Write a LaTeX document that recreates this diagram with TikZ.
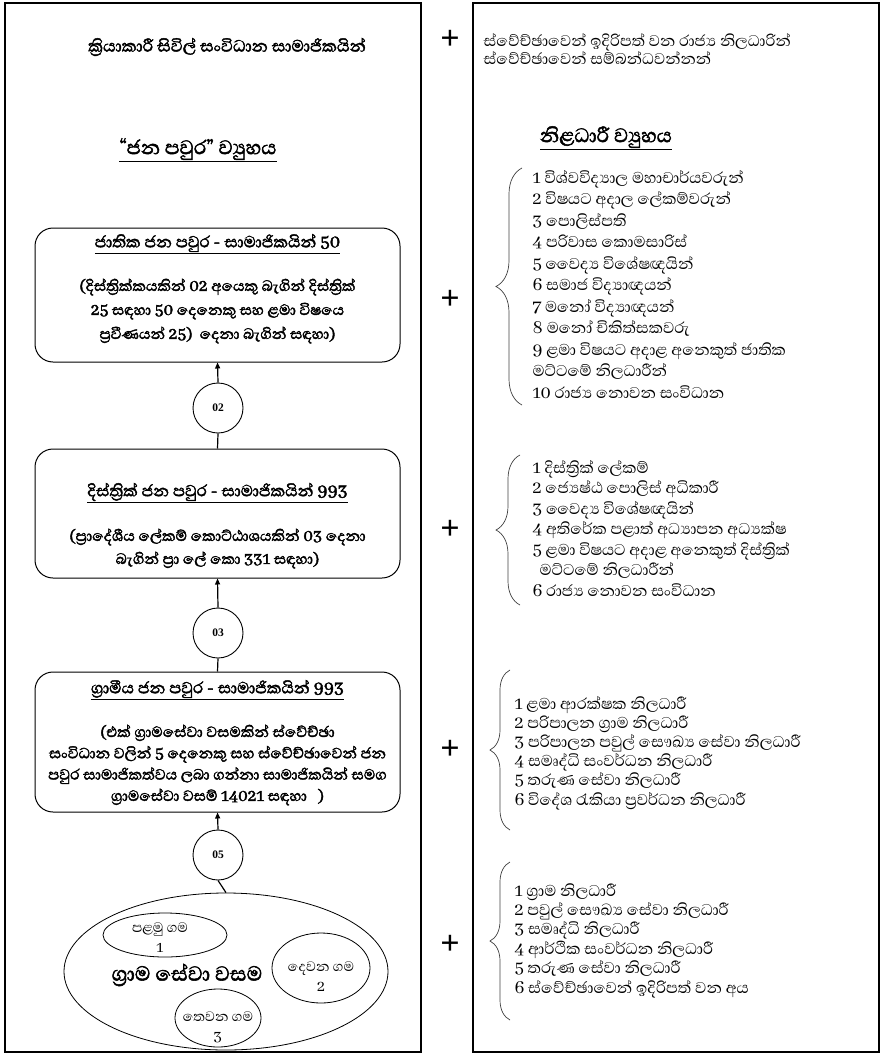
\documentclass[tikz,border=0pt]{standalone}
\usepackage{fontspec}
\setmainfont{Liberation Serif}
\newfontfamily\sinhala[Script=Sinhala, Numbers=Lining, AutoFakeBold=2]{Abhaya Libre}
\usepackage{tikz}
\usetikzlibrary{shapes.geometric}
\usetikzlibrary{decorations.pathreplacing}
\usetikzlibrary{arrows.meta}

\begin{document}
\begin{tikzpicture}[x=1pt, y=-1pt,
% define styles here
panel/.style={draw, line width=1.8pt},
levelbox/.style={rectangle, draw, line width=1pt, rounded corners=18pt, minimum width=365pt},
levelhead/.style={font=\sinhala\bfseries\fontsize{20.5}{22}\selectfont},
leveltext/.style={align=center, font=\sinhala\bfseries\fontsize{19}{#1}\selectfont},
countcircle/.style={circle, draw, line width=0.9pt, minimum size=50pt, inner sep=0pt, font=\bfseries\fontsize{11.5}{11.5}\selectfont},
village/.style={ellipse, draw, line width=0.8pt, inner sep=0pt},
villagetext/.style={align=center, font=\sinhala\fontsize{17.5}{20}\selectfont},
plussign/.style={font=\bfseries\fontsize{34}{34}\selectfont},
officers/.style={anchor=west, align=left, font=\sinhala\fontsize{20}{#1}\selectfont},
listbrace/.style={decorate, decoration={brace, amplitude=#1}, line width=0.7pt, draw=black!75},
uparrow/.style={-{Triangle[length=6pt, width=5pt]}, line width=1.2pt}
]
\useasboundingbox (0,0) rectangle (882,1057);

% the two panels
\draw[panel] (5,3) rectangle (421,1052);
\draw[panel] (473,3) rectangle (879,1052);

% left panel: jana pawura
\node[font=\sinhala\bfseries\fontsize{21}{22}\selectfont] (activists) at (227,47) {ක්‍රියාකාරී සිවිල් සංවිධාන සාමාජිකයින්};
\node[font=\sinhala\bfseries\fontsize{25}{28}\selectfont] (janatitle) at (198,150) {\underline{“ජන පවුර” ව්‍යුහය}};

\node[levelbox, minimum height=134pt] (national) at (217.5,295) {};
\node[levelhead] (nationalhead) at (217.5,244) {\underline{ජාතික ජන පවුර - සාමාජිකයින් 50}};
\node[leveltext=24] (nationaltext) at (217.5,311) {(දිස්ත්‍රික්කයකින් 02 අයෙකු බැගින් දිස්ත්‍රික්\\25 සඳහා 50 දෙනෙකු සහ ළමා විෂයෙ\\ප්‍රවීණයන් 25)\ \ දෙනා බැගින් සඳහා)};

\node[countcircle] (c2) at (218,408) {02};

\node[levelbox, minimum height=129pt] (district) at (217.5,513.5) {};
\node[levelhead] (districthead) at (217.5,493) {\underline{දිස්ත්‍රික් ජන පවුර - සාමාජිකයින් 993}};
\node[leveltext=23] (districttext) at (217.5,548.5) {(ප්‍රාදේශීය ලේකම් කොට්ඨාශයකින් 03 දෙනා\\බැගින් ප්‍රා ලේ කො 331 සඳහා)};

\node[countcircle] (c3) at (218,633) {03};

\node[levelbox, minimum height=140pt] (rural) at (217.5,742) {};
\node[levelhead] (ruralhead) at (217.5,690) {\underline{ග්‍රාමීය ජන පවුර - සාමාජිකයින් 993}};
\node[leveltext=21.3] (ruraltext) at (217.5,765) {(එක් ග්‍රාමසේවා වසමකින් ස්වේච්ඡා\\සංවිධාන වලින් 5 දෙනෙකු සහ ස්වේච්ඡාවෙන් ජන\\පවුර සාමාජිකත්වය ලබා ගන්නා සාමාජිකයින් සමග\\ග්‍රාමසේවා වසම් 14021 සඳහා\ \ \ )};

\node[countcircle] (c5) at (218,855) {05};

\node[village, minimum width=324pt, minimum height=157pt] (gnarea) at (226,971.5) {};
\node[font=\sinhala\bfseries\fontsize{26}{28}\selectfont] (gnlabel) at (187,975) {ග්‍රාම සේවා වසම};
\node[village, minimum width=124pt, minimum height=44pt] (village1) at (165,935) {};
\node[villagetext] (village1text) at (160,938) {පළමු ගම\\1};
\node[village, minimum width=98pt, minimum height=70pt] (village2) at (321,968) {};
\node[villagetext] (village2text) at (321,977) {දෙවන ගම\\2};
\node[village, minimum width=86pt, minimum height=58pt] (village3) at (218,1018) {};
\node[villagetext] (village3text) at (218,1027) {තෙවන ගම\\3};

% connectors between the levels
\draw[uparrow] (c2.north) -- (national.south);
\draw[line width=1.2pt] (district.north) -- (c2.south);
\draw[uparrow] (c3.north) -- (district.south);
\draw[line width=1.2pt] (rural.north) -- (c3.south);
\draw[uparrow] (c5.north) -- (rural.south);
\draw[line width=1.2pt] (gnarea.north) -- (c5.south);

% plus signs
\node[plussign] (plus0) at (450,40) {+};
\node[plussign] (plus1) at (450,300) {+};
\node[plussign] (plus2) at (450,530) {+};
\node[plussign] (plus3) at (450,750) {+};
\node[plussign] (plus4) at (450,945) {+};

% right panel: officers
\node[anchor=west, align=left, font=\sinhala\fontsize{19.8}{18.5}\selectfont] (volunteers) at (480,49) {ස්වේච්ඡාවෙන් ඉදිරිපත් වන රාජ්‍ය නිලධාරින්\\ස්වේච්ඡාවෙන් සම්බන්ධවන්නන්};
\node[font=\sinhala\bfseries\fontsize{25}{28}\selectfont] (offtitle) at (606,138) {\underline{නිළධාරී ව්‍යුහය}};

\node[officers=21.5] (natlist) at (529,284.5) {1 විශ්වවිද්‍යාල මහාචාර්යවරුන්\\2 විෂයට අදාල ලේකම්වරුන්\\3 පොලිස්පති\\4 පරිවාස කොමසාරිස්\\5 වෛද්‍ය විශේෂඥයින්\\6 සමාජ විද්‍යාඥයන්\\7 මනෝ විද්‍යාඥයන්\\8 මනෝ චිකිත්සකවරු\\9 ළමා විෂයට අදාළ අනෙකුත් ජාතික\\මට්ටමේ නිලධාරීන්\\10 රාජ්‍ය නොවන සංවිධාන};
\node[officers=20.5] (distlist) at (529,528.5) {1 දිස්ත්‍රික් ලේකම්\\2 ජ්‍යෙෂ්ඨ පොලිස් අධිකාරී\\3 වෛද්‍ය විශේෂඥයින්\\4 අතිරේක පළාත් අධ්‍යාපන අධ්‍යක්ෂ\\5 ළමා විෂයට අදාළ අනෙකුත් දිස්ත්‍රික්\\\hspace{7pt}මට්ටමේ නිලධාරීන්\\6 රාජ්‍ය නොවන සංවිධාන};
\node[officers=19.2] (rurallist) at (511,753) {1 ළමා ආරක්ෂක නිලධාරී\\2 පරිපාලන ග්‍රාම නිලධාරී\\3 පරිපාලන පවුල් සෞඛ්‍ය සේවා නිලධාරී\\4 සමෘද්ධි සංවර්ධන නිලධාරී\\5 තරුණ සේවා නිලධාරී\\6 විදේශ රැකියා ප්‍රවර්ධන නිලධාරී};
\node[officers=19.4] (gnlist) at (511,940.5) {1 ග්‍රාම නිලධාරී\\2 පවුල් සෞඛ්‍ය සේවා නිලධාරී\\3 සමෘද්ධි නිලධාරී\\4 ආර්ථික සංවර්ධන නිලධාරී\\5 තරුණ සේවා නිලධාරී\\6 ස්වේච්ඡාවෙන් ඉදිරිපත් වන අය};

% braces
\coordinate (b1top) at (522,168);
\coordinate (b1bot) at (522,405);
\coordinate (b2top) at (520,455);
\coordinate (b2bot) at (520,605);
\coordinate (b3top) at (510,670);
\coordinate (b3bot) at (510,830);
\coordinate (b4top) at (510,862);
\coordinate (b4bot) at (510,1020);
\draw[listbrace=26pt] (b1bot) -- (b1top);
\draw[listbrace=24pt] (b2bot) -- (b2top);
\draw[listbrace=20pt] (b3bot) -- (b3top);
\draw[listbrace=20pt] (b4bot) -- (b4top);
\end{tikzpicture}
\end{document}
